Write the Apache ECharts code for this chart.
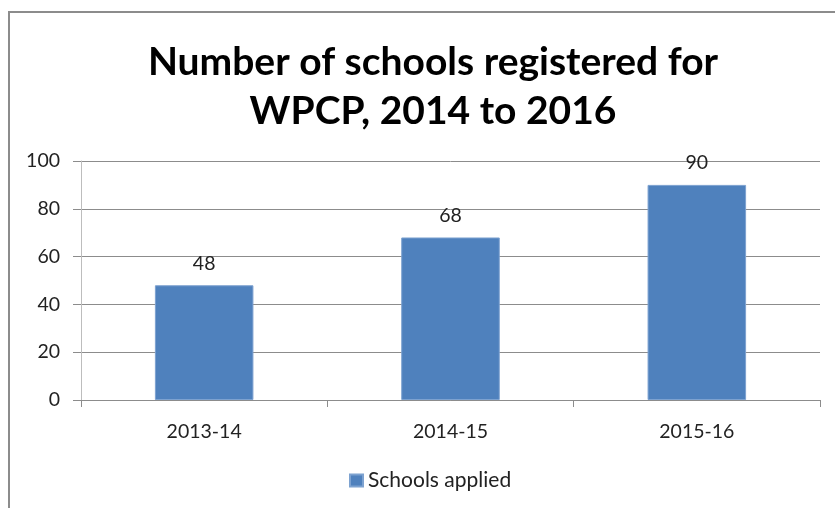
<!DOCTYPE html>
<html>
<head>
<meta charset="utf-8">
<script src="https://cdn.jsdelivr.net/npm/echarts@6/dist/echarts.min.js"></script>
<style>
  html, body { margin: 0; padding: 0; background: #fff; }
  #chart { width: 835px; height: 508px; }
</style>
</head>
<body>
<div id="chart"></div>
<script>
// Registration counts per school year
const categories = ['2013-14', '2014-15', '2015-16'];
const schoolsApplied = [48, 68, 90];
const yTicks = { min: 0, max: 100, interval: 20 };
const seriesName = 'Schools applied';
const titleText = 'Number of schools registered for\nWPCP, 2014 to 2016';

const FONT = 'Lato, "Open Sans", sans-serif';
const chart = echarts.init(document.getElementById('chart'));

chart.setOption({
  animation: false,
  textStyle: { fontFamily: FONT },
  graphic: [{
    type: 'rect',
    shape: { x: 9, y: 12, width: 900, height: 600 },
    style: { fill: 'none', stroke: '#8c8c8c', lineWidth: 2 },
    silent: true
  }],
  title: {
    text: titleText,
    left: 428,
    top: 33,
    textAlign: 'center',
    textStyle: {
      fontFamily: FONT,
      fontWeight: 'bold',
      fontSize: 39,
      lineHeight: 49,
      color: '#000'
    }
  },
  legend: {
    data: [seriesName],
    bottom: 12,
    left: 344,
    itemWidth: 13,
    itemHeight: 12,
    itemGap: 6,
    icon: 'rect',
    textStyle: { fontFamily: FONT, fontSize: 21, color: '#222' }
  },
  grid: { left: 81, right: 15, top: 161, bottom: 108, containLabel: false },
  xAxis: {
    type: 'category',
    data: categories,
    axisLine: { lineStyle: { color: '#8c8c8c', width: 1 } },
    axisTick: { show: true, length: 7, lineStyle: { color: '#8c8c8c' } },
    axisLabel: { fontFamily: FONT, fontSize: 19.5, color: '#222', margin: 22 }
  },
  yAxis: {
    type: 'value',
    min: yTicks.min,
    max: yTicks.max,
    interval: yTicks.interval,
    axisLine: { show: true, lineStyle: { color: '#bdbdbd' } },
    axisTick: { show: true, length: 8, lineStyle: { color: '#8c8c8c' } },
    axisLabel: { fontFamily: FONT, fontSize: 19.5, color: '#222', margin: 21 },
    splitLine: { lineStyle: { color: '#8c8c8c', width: 1 } }
  },
  series: [{
    name: seriesName,
    type: 'bar',
    data: schoolsApplied,
    barCategoryGap: '60%',
    itemStyle: { color: '#4F81BD', borderColor: '#7da2d0', borderWidth: 1 },
    label: {
      show: true,
      position: 'top',
      distance: 12,
      fontFamily: FONT,
      fontSize: 19.5,
      color: '#222'
    }
  }]
});
</script>
</body>
</html>
